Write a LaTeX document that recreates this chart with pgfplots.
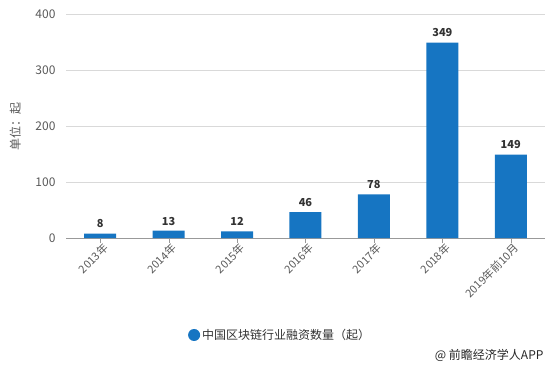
\documentclass[border=0pt]{standalone}
\usepackage{fontspec}
\setmainfont{Noto Sans CJK SC}
\usepackage{pgfplots}
\pgfplotsset{compat=1.18}
\definecolor{barblue}{RGB}{22,117,194}
\definecolor{tickgray}{RGB}{89,89,89}
\definecolor{gridgray}{RGB}{217,217,217}
\begin{document}
\begin{tikzpicture}
\begin{axis}[
  at={(66pt,130pt)}, anchor=south west,
  scale only axis, width=479pt, height=224pt,
  xmin=-0.5, xmax=6.5, ymin=0, ymax=400,
  ytick={0,100,200,300,400},
  xtick={0,...,6},
  xticklabels={2013年,2014年,2015年,2016年,2017年,2018年,2019年前10月},
  x tick label style={rotate=45, anchor=north east, font=\fontsize{11}{13}\selectfont, text=tickgray, inner sep=1pt, xshift=3pt},
  y tick label style={font=\fontsize{12}{14}\selectfont, text=tickgray, xshift=-2pt},
  /pgf/number format/assume math mode=true,
  axis x line*=bottom, axis y line*=left,
  y axis line style={draw=none},
  ytick style={draw=none},
  x axis line style={draw=gray!80, -},
  xtick style={draw=gray!80},
  major tick length=5pt,
  tick align=outside,
  ymajorgrids, grid style={gridgray},
  ylabel={单位：起},
  every axis y label/.style={at={(axis description cs:-0.106,0.5)}, rotate=90, anchor=center, font=\fontsize{12}{14}\selectfont, text=tickgray},
  ybar, bar width=32pt,
  nodes near coords,
  nodes near coords style={font=\bfseries\fontsize{11}{13}\selectfont, text=black!80, yshift=2pt},
  legend style={at={(0.447,-0.433)}, anchor=center, draw=none, font=\fontsize{12}{14}\selectfont, text=black!80},
  legend image code/.code={\fill[barblue] (0pt,0pt) circle (6pt);},
  clip=false,
]
\addplot[fill=barblue, draw=none] coordinates {(0,8) (1,13) (2,12) (3,46) (4,78) (5,349) (6,149)};
\addlegendentry{中国区块链行业融资数量（起）}
\end{axis}
\node[anchor=east, font=\fontsize{12}{14}\selectfont, text=black!85] at (547pt,13pt) {@ 前瞻经济学人APP};
\path (0pt,0pt) rectangle (555pt,368pt);
\end{tikzpicture}
\end{document}
